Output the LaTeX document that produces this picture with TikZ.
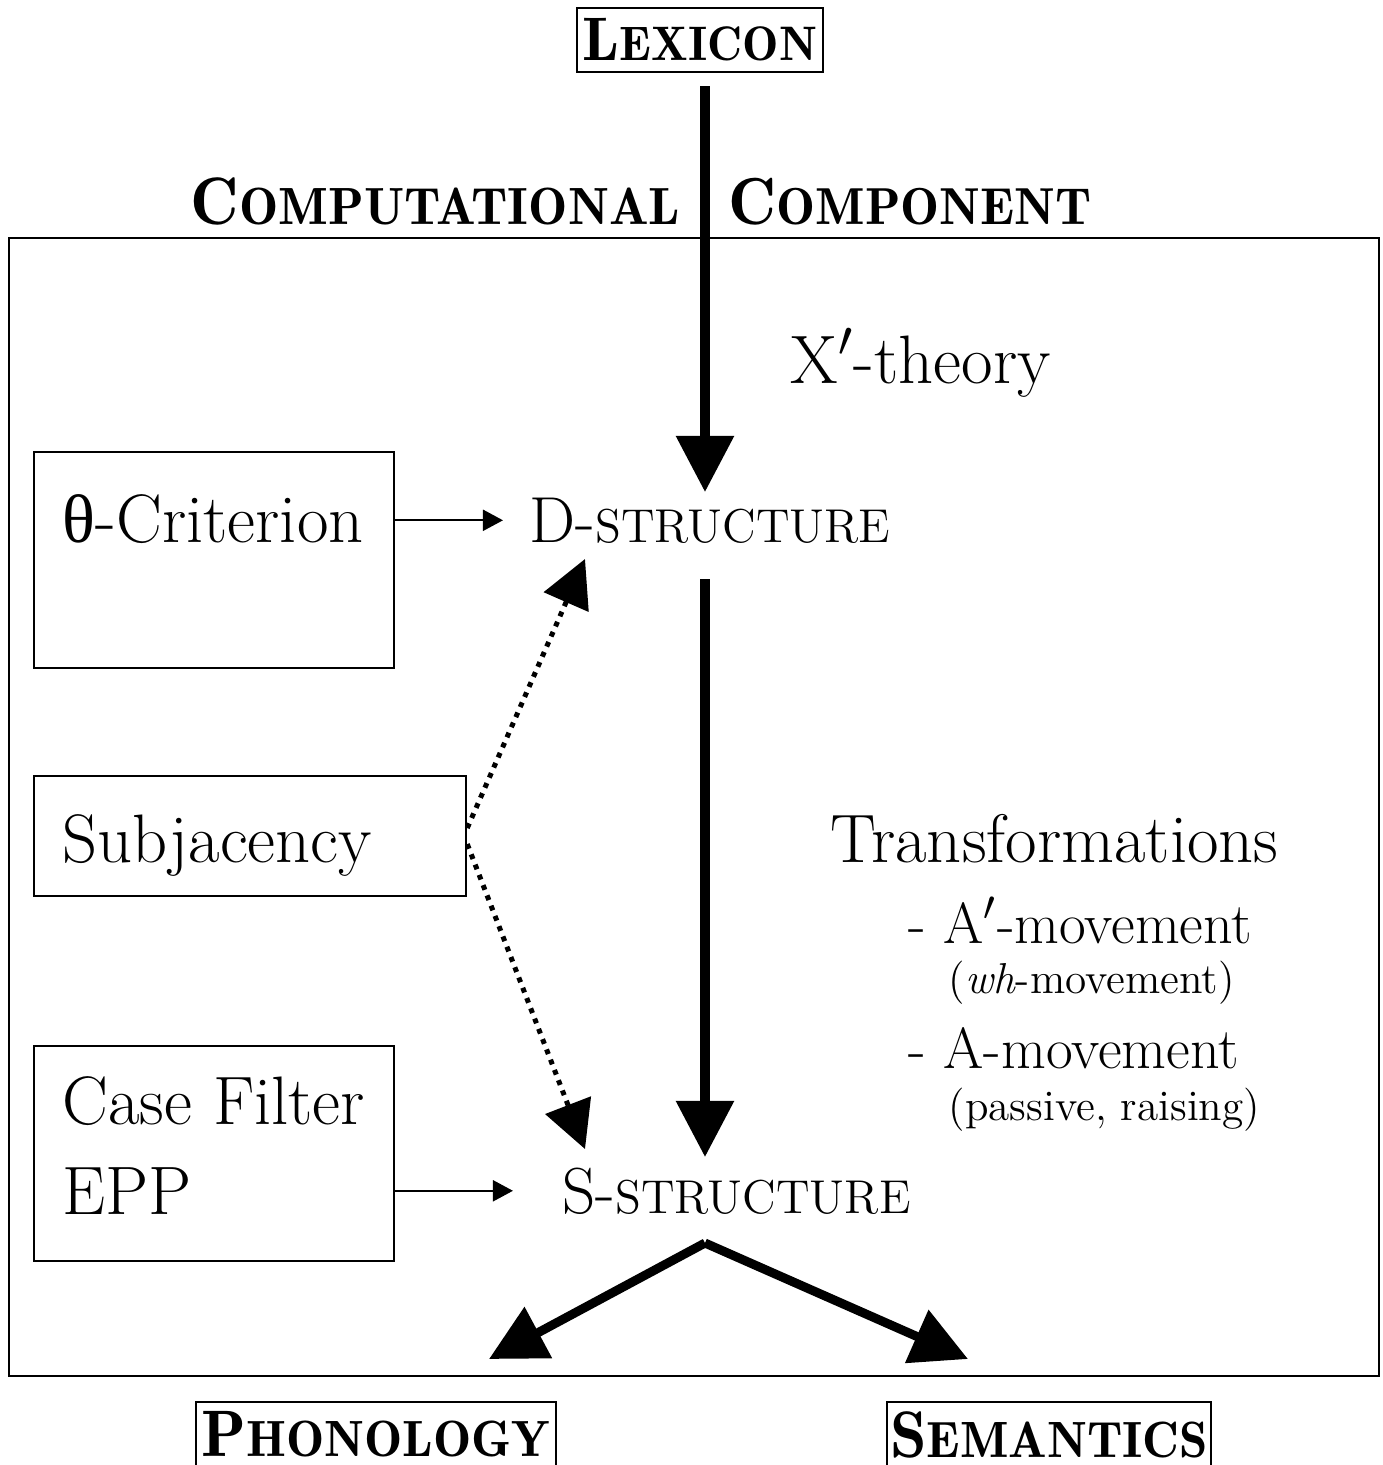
\documentclass[tikz,border=0pt]{standalone}
\usepackage{fontspec}
\usepackage{tikz}
\usetikzlibrary{arrows.meta,positioning,calc}
\newfontfamily\thetafont{Liberation Serif}
% small caps made by hand: big first letter, smaller capitals after it
\newcommand{\bsc}[4]{{\fontseries{b}\selectfont\fontsize{#1}{#1}\selectfont #3\fontsize{#2}{#2}\selectfont #4}}
\newcommand{\rsc}[4]{{\fontsize{#1}{#1}\selectfont #3\fontsize{#2}{#2}\selectfont #4}}

\begin{document}
\begin{tikzpicture}[x=0.01cm, y=-0.01cm,
  every node/.style={font=\fontsize{19.5}{23}\selectfont, inner sep=0pt},
  box/.style={draw, line width=0.02cm, anchor=north west},
  namebox/.style={draw, line width=0.02cm, minimum height=0.64cm},
  txt/.style={anchor=base west},
  bigarrow/.style={line width=0.09cm, -{Triangle[length=0.56cm,width=0.56cm]}},
  thinarrow/.style={line width=0.02cm, -{Triangle[length=0.2cm,width=0.21cm]}},
  dotarrow/.style={line width=0.05cm, dash pattern=on 0.05cm off 0.06cm, -{Triangle[length=0.47cm,width=0.48cm]}}]
  \useasboundingbox (0,0) rectangle (1383,1465);

  % Lexicon and the component frame
  \node[namebox, minimum width=2.46cm] (lexicon) at (700,40) {\bsc{17.5}{13.8}{L}{EXICON}};
  \node[box, minimum width=13.69cm, minimum height=11.37cm] (comp) at (8,237) {};
  \node[txt] (comptitle) at (190,224) {\bsc{19.1}{14.9}{C}{OMPUTATIONAL}};
  \node[txt] (comptitle2) at (728,224) {\bsc{18.9}{14.8}{C}{OMPONENT}};

  % the two levels
  \node[txt] (dstruct) at (529,542) {\rsc{18.5}{13.5}{D-}{STRUCTURE}};
  \node[txt] (sstruct) at (562,1213) {\rsc{18.5}{13.5}{S-}{STRUCTURE}};
  \coordinate (dtop) at (705,492);
  \coordinate (dbot) at (705,579);
  \coordinate (stop) at (705,1157);
  \coordinate (sbot) at (705,1243);
  \coordinate (ddot) at (585,559);
  \coordinate (sdot) at (585,1149);
  \coordinate (phontip) at (489,1359);
  \coordinate (semtip) at (968,1359);

  % principles on the left
  \node[box, minimum width=3.6cm, minimum height=2.16cm] (theta) at (33,451) {};
  \node[txt] (thetatxt) at (62,542) {{\thetafont θ}-Criterion};
  \node[box, minimum width=4.32cm, minimum height=1.2cm] (subj) at (33,775) {};
  \node[txt] (subjtxt) at (62,862) {Subjacency};
  \node[box, minimum width=3.6cm, minimum height=2.15cm] (casef) at (33,1045) {};
  \node[txt] (casetxt) at (62,1124) {Case Filter};
  \node[txt] (epptxt) at (62,1214) {EPP};

  % labels on the right
  \node[txt] (xbar) at (790,383) {X$'$-theory};
  \node[txt] (transf) at (830,862) {Transformations};
  \node[txt, font=\fontsize{16.5}{19}\selectfont] (abar) at (908,943) {- A$'$-movement};
  \node[txt, font=\fontsize{12.3}{14}\selectfont] (whmov) at (948,993) {(\textit{wh}-movement)};
  \node[txt, font=\fontsize{16.5}{19}\selectfont] (amov) at (908,1068) {- A-movement};
  \node[txt, font=\fontsize{12.3}{14}\selectfont] (passive) at (948,1120) {(passive, raising)};

  % interfaces
  \node[namebox, minimum width=3.6cm, anchor=north west, minimum height=0.65cm] (phon) at (195,1401) {\bsc{18.7}{14.5}{P}{HONOLOGY}};
  \node[namebox, minimum width=3.24cm, anchor=north west, minimum height=0.65cm] (sem) at (886,1401) {\bsc{18.7}{14.5}{S}{EMANTICS}};

  % arrows
  \draw[bigarrow, shorten <=0.13cm] (lexicon.south -| dtop) -- (dtop);
  \draw[bigarrow] (dbot) -- (stop);
  \draw[bigarrow] (sbot) -- (phontip);
  \draw[bigarrow] (sbot) -- (semtip);
  \draw[thinarrow] (theta.east |- dstruct.west) -- ([xshift=-0.26cm]dstruct.west);
  \draw[thinarrow] (casef.east |- sstruct.west) -- ([xshift=-0.49cm]sstruct.west);
  \draw[dotarrow] ([yshift=0.08cm]subj.east) -- (ddot);
  \draw[dotarrow] ([yshift=-0.08cm]subj.east) -- (sdot);
\end{tikzpicture}
\end{document}
